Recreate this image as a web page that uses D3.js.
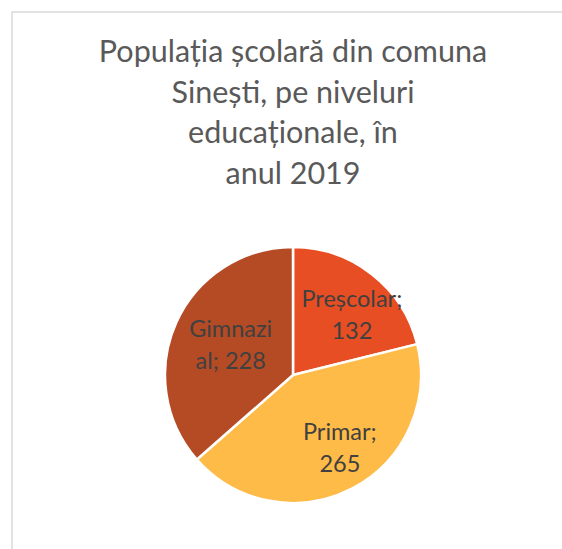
<!DOCTYPE html>
<html>
<head>
<meta charset="utf-8">
<script src="https://cdn.jsdelivr.net/npm/d3@7/dist/d3.min.js"></script>
<style>
  html, body { margin: 0; padding: 0; background: #fff; }
  svg { display: block; }
</style>
</head>
<body>
<script>
const categories = ["Preșcolar", "Primar", "Gimnazial"];
const values = [132, 265, 228];
const labelLines = [["Preșcolar;", "132"], ["Primar;", "265"], ["Gimnazi", "al; 228"]];
const colors = ["#E84E23", "#FFBB47", "#B44B25"];
const titleLines = ["Populația școlară din comuna", "Sinești, pe niveluri", "educaționale, în", "anul 2019"];

const W = 562, H = 549;
const font = "Lato, 'Open Sans', sans-serif";
const svg = d3.select("body").append("svg").attr("width", W).attr("height", H);

svg.append("rect").attr("x", 0).attr("y", 0).attr("width", W).attr("height", H).attr("fill", "#fff");
svg.append("rect")
  .attr("x", 12).attr("y", 12).attr("width", W + 20).attr("height", H + 20)
  .attr("fill", "#fff").attr("stroke", "#D9D9D9").attr("stroke-width", 1.5);

const title = svg.append("text")
  .attr("text-anchor", "middle")
  .attr("font-family", font)
  .attr("font-size", 30.5)
  .attr("fill", "#595959");
titleLines.forEach((t, i) => {
  title.append("tspan").attr("x", 293).attr("y", 62 + i * 40.5).text(t);
});

const cx = 293, cy = 375, r = 128;
const pie = d3.pie().sort(null).value(d => d);
const arcs = pie(values);
const arc = d3.arc().innerRadius(0).outerRadius(r);
const labelArc = d3.arc().innerRadius(r * 0.62).outerRadius(r * 0.62);

const g = svg.append("g").attr("transform", `translate(${cx},${cy})`);
g.selectAll("path.slice").data(arcs).join("path")
  .attr("class", "slice")
  .attr("d", arc)
  .attr("fill", (d, i) => colors[i])
  .attr("stroke", "#fff")
  .attr("stroke-width", 2.5)
  .attr("stroke-linejoin", "round");

const lbl = g.selectAll("text.lbl").data(arcs).join("text")
  .attr("class", "lbl")
  .attr("text-anchor", "middle")
  .attr("font-family", font)
  .attr("font-size", 23.5)
  .attr("fill", "#404040")
  .attr("transform", d => {
    const [x, y] = labelArc.centroid(d);
    return `translate(${x + 10},${y + 3})`;
  });
lbl.each(function(d, i) {
  const t = d3.select(this);
  labelLines[i].forEach((s, j) => {
    t.append("tspan").attr("x", 0).attr("y", -8 + j * 32).text(s);
  });
});
</script>
</body>
</html>
